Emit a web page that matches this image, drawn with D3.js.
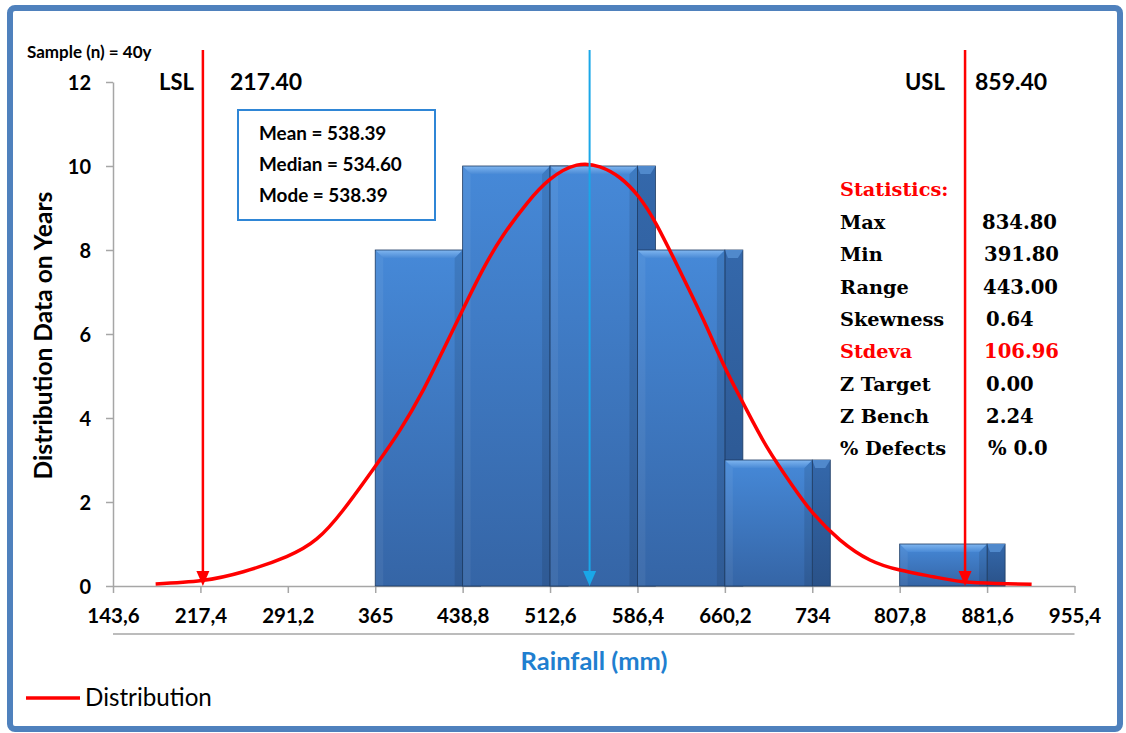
<!DOCTYPE html>
<html><head><meta charset="utf-8">
<script src="https://cdn.jsdelivr.net/npm/d3@7"></script>
<style>body{margin:0;background:#fff}svg{display:block}</style>
</head><body><svg id="c" width="1126" height="733"></svg>
<script>
// ---- data ----
const binStarts = [365, 438.8, 512.6, 586.4, 660.2, 734, 807.8];
const binEnds   = [438.8, 512.6, 586.4, 660.2, 734, 807.8, 881.6];
const binCounts = [8, 10, 10, 8, 3, 0, 1];
const xTicks = [143.6, 217.4, 291.2, 365, 438.8, 512.6, 586.4, 660.2, 734, 807.8, 881.6, 955.4];
const xTickLabels = ["143,6","217,4","291,2","365","438,8","512,6","586,4","660,2","734","807,8","881,6","955,4"];
const yTicks = [0, 2, 4, 6, 8, 10, 12];
const curveX = [179.6, 218.5, 253.6, 290.2, 315.6, 338.0, 364.8, 385.9, 405.6, 422.4, 439.3, 456.2, 473.1, 492.8, 512.5, 535.1, 554.7, 571.6, 587.1, 602.6, 622.3, 641.9, 660.3, 675.7, 695.5, 718.0, 734.8, 757.3, 782.7, 808.0, 836.1, 861.5, 889.6, 919.2];
const curveY = [0.05, 0.13, 0.34, 0.70, 1.12, 1.81, 2.84, 3.71, 4.67, 5.62, 6.6, 7.55, 8.35, 9.1, 9.68, 10.02, 9.98, 9.72, 9.28, 8.6, 7.5, 6.35, 5.2, 4.35, 3.32, 2.36, 1.73, 1.1, 0.62, 0.38, 0.22, 0.1, 0.06, 0.04];
const limitNames  = ["LSL", "USL"];
const limitLabels = ["217.40", "859.40"];
const limitPos    = [219.5, 863];
const centerLine  = 546;
const boxLines = ["Mean = 538.39", "Median = 534.60", "Mode = 538.39"];
const statLabels = ["Max", "Min", "Range", "Skewness", "Stdeva", "Z Target", "Z Bench", "% Defects"];
const statValues = ["834.80", "391.80", "443.00", "0.64", "106.96", "0.00", "2.24", "% 0.0"];

// ---- setup ----
const svg = d3.select("#c");
const W = 1126, H = 733;
const x = d3.scaleLinear().domain([143.6, 955.4]).range([113, 1074.5]);
const y = d3.scaleLinear().domain([0, 12]).range([586, 82]);
const sans = "Lato, 'Open Sans', sans-serif";
const serif = "'DejaVu Serif', 'Liberation Serif', serif";

const defs = svg.append("defs");
function lg(id, stops) {
  const g = defs.append("linearGradient").attr("id", id).attr("x1", 0).attr("y1", 0).attr("x2", 0).attr("y2", 1);
  stops.forEach(s => g.append("stop").attr("offset", s[0]).attr("stop-color", s[1]));
}
lg("face", [[0, "#4689d8"], [1, "#3565a6"]]);
lg("side", [[0, "#3468ab"], [1, "#2a5289"]]);
lg("bevTop", [[0, "#80b6f0"], [1, "#4a8ad6"]]);

// frame
svg.append("rect").attr("x", 10).attr("y", 8).attr("width", W - 16).attr("height", H - 12)
  .attr("rx", 5).attr("fill", "#fff").attr("stroke", "#4f81bd").attr("stroke-width", 6);

// axes
const gx = svg.append("g").attr("transform", `translate(0,${y(0)})`)
  .call(d3.axisBottom(x).tickValues(xTicks).tickFormat((d, i) => xTickLabels[i]).tickSize(7).tickSizeOuter(0));
gx.select(".domain").attr("stroke", "#a6a6a6").attr("stroke-width", 1.5);
gx.selectAll(".tick line").attr("stroke", "#a6a6a6").attr("stroke-width", 1.5);
gx.selectAll(".tick text").attr("font-family", sans).attr("font-weight", "bold").attr("font-size", 20.5)
  .attr("fill", "#000").attr("dy", 0).attr("y", 37);

const gy = svg.append("g").attr("transform", `translate(${x(143.6)},0)`)
  .call(d3.axisLeft(y).tickValues(yTicks).tickFormat(d3.format("d")).tickSize(7).tickSizeOuter(0));
gy.select(".domain").attr("stroke", "#a6a6a6").attr("stroke-width", 1.5);
gy.selectAll(".tick line").attr("stroke", "#a6a6a6").attr("stroke-width", 1.5);
gy.selectAll(".tick text").attr("font-family", sans).attr("font-weight", "bold").attr("font-size", 20)
  .attr("fill", "#000").attr("x", -22).attr("dy", "0.36em");

// separator line under x labels
svg.append("line").attr("x1", x(143.6)).attr("x2", x(955.4)).attr("y1", 634).attr("y2", 634)
  .attr("stroke", "#a6a6a6").attr("stroke-width", 1.5);

// bars with 3D side
const depth = 18, bv = 8;
const bars = binStarts.map((s, i) => ({ s, e: binEnds[i], c: binCounts[i] })).filter(d => d.c > 0);
const bg = svg.append("g");
bars.forEach(d => {
  const x0 = x(d.s), x1 = x(d.e), yt = y(d.c), yb = y(0);
  const g = bg.append("g");
  g.append("rect").attr("x", x1).attr("y", yt).attr("width", depth).attr("height", yb - yt)
    .attr("fill", "url(#side)").attr("stroke", "#1d3b63").attr("stroke-width", 0.8);
  g.append("path").attr("d", `M${x1},${yt}L${x1 + depth},${yt}L${x1 + depth - 5},${yt + bv}L${x1 + 3},${yt + bv}Z`)
    .attr("fill", "#5089cc");
  g.append("rect").attr("x", x0).attr("y", yt).attr("width", x1 - x0).attr("height", yb - yt)
    .attr("fill", "url(#face)");
  g.append("path").attr("d", `M${x0},${yt}L${x0 + bv},${yt + bv}L${x0 + bv},${yb}L${x0},${yb}Z`)
    .attr("fill", "#ffffff").attr("opacity", 0.06);
  g.append("path").attr("d", `M${x1},${yt}L${x1 - bv},${yt + bv}L${x1 - bv},${yb}L${x1},${yb}Z`)
    .attr("fill", "#000").attr("opacity", 0.1);
  g.append("path").attr("d", `M${x0},${yt}L${x1},${yt}L${x1 - bv},${yt + bv}L${x0 + bv},${yt + bv}Z`)
    .attr("fill", "url(#bevTop)");
  g.append("rect").attr("x", x0).attr("y", yt).attr("width", x1 - x0).attr("height", yb - yt)
    .attr("fill", "none").attr("stroke", "#1d3b63").attr("stroke-width", 0.8);
});

// distribution curve
const pts = curveX.map((v, i) => [v, curveY[i]]);
svg.append("path").datum(pts)
  .attr("d", d3.line().x(d => x(d[0])).y(d => y(d[1])).curve(d3.curveNatural))
  .attr("fill", "none").attr("stroke", "#ff0000").attr("stroke-width", 3.5);

// vertical lines with downward arrowheads
function vline(v, col, w) {
  const px = x(v), yb = y(0);
  svg.append("line").attr("x1", px).attr("x2", px).attr("y1", 50).attr("y2", yb - 8)
    .attr("stroke", col).attr("stroke-width", w);
  svg.append("path").attr("d", `M${px - 6.5},${yb - 15}L${px + 6.5},${yb - 15}L${px},${yb}Z`).attr("fill", col);
}
vline(centerLine, "#1aa7e8", 2);
limitPos.forEach(p => vline(p, "#ff0000", 2.5));

const lim = [{ n: 159, v: 230 }, { n: 905, v: 975 }];
limitNames.forEach((n, i) => {
  svg.append("text").attr("x", lim[i].n).attr("y", 90).text(n)
    .attr("font-family", sans).attr("font-weight", "bold").attr("font-size", 22);
  svg.append("text").attr("x", lim[i].v).attr("y", 90).text(limitLabels[i])
    .attr("font-family", sans).attr("font-weight", "bold").attr("font-size", 23);
});

// sample label
svg.append("text").attr("x", 27).attr("y", 58).text("Sample (n) = 40y")
  .attr("font-family", sans).attr("font-weight", "bold").attr("font-size", 17);

// mean box
svg.append("rect").attr("x", 238).attr("y", 110).attr("width", 197).attr("height", 110)
  .attr("fill", "#fff").attr("stroke", "#2f86d6").attr("stroke-width", 2);
boxLines.forEach((t, i) => svg.append("text").attr("x", 259).attr("y", 140 + i * 31).text(t)
  .attr("font-family", sans).attr("font-weight", "bold").attr("font-size", 18.9));

// statistics
svg.append("text").attr("x", 840).attr("y", 196).text("Statistics:")
  .attr("font-family", serif).attr("font-weight", "bold").attr("font-size", 19.3).attr("fill", "#ff0000");
const valX = [982, 984, 983, 986, 984, 986, 986, 988];
statLabels.forEach((t, i) => {
  const col = t === "Stdeva" ? "#ff0000" : "#000";
  svg.append("text").attr("x", 840).attr("y", 229 + i * 32.3).text(t)
    .attr("font-family", serif).attr("font-weight", "bold").attr("font-size", 19.3).attr("fill", col);
  svg.append("text").attr("x", valX[i]).attr("y", 229 + i * 32.3).text(statValues[i])
    .attr("font-family", serif).attr("font-weight", "bold").attr("font-size", 19.6).attr("fill", col);
});

// axis titles
svg.append("text").attr("transform", "translate(52,335.5) rotate(-90)").attr("text-anchor", "middle")
  .text("Distribution Data on Years").attr("font-family", sans).attr("font-weight", "bold").attr("font-size", 24.6);
svg.append("text").attr("x", 594).attr("y", 670).attr("text-anchor", "middle").text("Rainfall (mm)")
  .attr("font-family", sans).attr("font-weight", "bold").attr("font-size", 25.5).attr("fill", "#1f7fd0");

// legend
svg.append("line").attr("x1", 26).attr("x2", 80).attr("y1", 698).attr("y2", 698)
  .attr("stroke", "#ff0000").attr("stroke-width", 3.5);
svg.append("text").attr("x", 85).attr("y", 706).text("Distribution")
  .attr("font-family", sans).attr("font-size", 24.2);
</script></body></html>
